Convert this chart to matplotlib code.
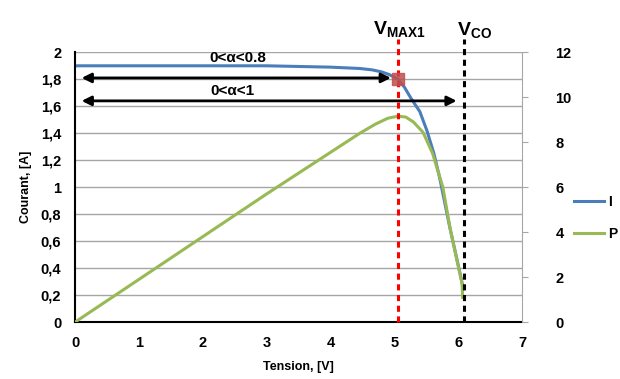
import numpy as np
import matplotlib
matplotlib.use("Agg")
import matplotlib.pyplot as plt

plt.rcParams['font.family'] = ['Liberation Sans', 'DejaVu Sans']
plt.rcParams['mathtext.fontset'] = 'custom'
plt.rcParams['mathtext.bf'] = 'Liberation Sans:bold'
plt.rcParams['mathtext.rm'] = 'Liberation Sans'

# courbe I(V)
v_i = [0, 0.5, 1, 1.5, 2, 2.5, 3, 3.5, 4, 4.46, 4.65, 4.8, 4.92, 5.06, 5.16, 5.26, 5.4, 5.51, 5.62, 5.71, 5.87, 6.03, 6.07]
i_a = [1.90, 1.90, 1.90, 1.90, 1.90, 1.90, 1.90, 1.895, 1.89, 1.88, 1.87, 1.855, 1.835, 1.80, 1.74, 1.66, 1.56, 1.42, 1.25, 1.07, 0.70, 0.36, 0.27]
# courbe P(V)
v_p = [0, 1, 2, 3, 4, 4.46, 4.7, 4.9, 5.06, 5.18, 5.3, 5.45, 5.6, 5.76, 5.87, 5.98, 6.06, 6.07]
p_w = [0, 1.9, 3.8, 5.7, 7.55, 8.4, 8.8, 9.07, 9.16, 9.12, 8.9, 8.44, 7.5, 6.0, 4.22, 2.76, 1.73, 1.1]

v_max = 5.06
i_max = 1.80
v_co = 6.09

left_ticks = [0, 0.2, 0.4, 0.6, 0.8, 1, 1.2, 1.4, 1.6, 1.8, 2]
left_labels = ['0', '0,2', '0,4', '0,6', '0,8', '1', '1,2', '1,4', '1,6', '1,8', '2']
right_ticks = [0, 2, 4, 6, 8, 10, 12]
x_ticks = [0, 1, 2, 3, 4, 5, 6, 7]

blue = '#4A7EBB'
green = '#98B954'

fig = plt.figure(figsize=(6.2, 3.79), dpi=100)
ax = fig.add_axes([0.121, 0.150, 0.721, 0.712])
ax2 = ax.twinx()

ax.set_xlim(0, 7)
ax.set_ylim(0, 2)
ax2.set_ylim(0, 12)

ax.set_yticks(left_ticks)
ax.set_yticklabels(left_labels)
ax.set_xticks(x_ticks)
ax2.set_yticks(right_ticks)
ax.grid(axis='y', color='#A6A6A6', lw=1)
ax.set_axisbelow(True)

for a in (ax, ax2):
    a.spines['top'].set_visible(False)
ax.spines['left'].set_color('black')
ax.spines['left'].set_linewidth(1.5)
ax.spines['bottom'].set_color('black')
ax.spines['bottom'].set_linewidth(1.5)
ax.spines['right'].set_visible(False)
ax2.spines['left'].set_visible(False)
ax2.spines['bottom'].set_visible(False)
ax2.spines['right'].set_color('#A6A6A6')

ax.tick_params(axis='both', length=0, labelsize=10.5, pad=10)
ax2.tick_params(axis='y', length=4, color='#A6A6A6', labelsize=10.5, pad=20)
for lab in ax.get_xticklabels() + ax.get_yticklabels() + ax2.get_yticklabels():
    lab.set_fontweight('bold')

ax.set_xlabel('Tension, [V]', fontsize=9, fontweight='bold', labelpad=8)
ax.set_ylabel('Courant, [A]', fontsize=9, fontweight='bold', labelpad=6)

l1, = ax.plot(v_i, i_a, color=blue, lw=2.2, label='I')
l2, = ax2.plot(v_p, p_w, color=green, lw=2.2, label='P')

# lignes verticales
ax2.plot([v_max, v_max], [0, 12.6], color='red', lw=2.2, ls=(0, (2, 1.5)), clip_on=False, zorder=5)
ax2.plot([v_co, v_co], [0, 12.6], color='black', lw=2.2, ls=(0, (2, 1.5)), clip_on=False, zorder=5)

# point de puissance max
ax2.plot([v_max], [i_max * 6], marker='s', ms=8, color='#C0504D', alpha=0.85, zorder=6)

# flèches
ax2.annotate('', xy=(v_max - 0.07, 1.81), xytext=(0.06, 1.81),
             xycoords=ax.transData, textcoords=ax.transData,
             arrowprops=dict(arrowstyle='<|-|>', color='black', lw=2, mutation_scale=14))
ax2.annotate('', xy=(v_co - 0.07, 1.64), xytext=(0.06, 1.64),
             xycoords=ax.transData, textcoords=ax.transData,
             arrowprops=dict(arrowstyle='<|-|>', color='black', lw=2, mutation_scale=14))
ax2.text(2.55, 1.955, '0<α<0.8', transform=ax.transData, ha='center', va='center',
         fontsize=11, fontweight='bold')
ax2.text(2.47, 1.715, '0<α<1', transform=ax.transData, ha='center', va='center',
         fontsize=11, fontweight='bold')

ax2.text(v_max + 0.02, 2.17, r'$\mathbf{V_{MAX1}}$', transform=ax.transData, ha='center',
         va='center', fontsize=14, clip_on=False)
ax2.text(v_co + 0.17, 2.165, r'$\mathbf{V_{CO}}$', transform=ax.transData, ha='center',
         va='center', fontsize=14, clip_on=False)

fig.legend(handles=[l1, l2], loc='center left', bbox_to_anchor=(0.925, 0.425),
           frameon=False, handlelength=2.2, handletextpad=0.3, borderpad=0,
           borderaxespad=0, labelspacing=1.3, prop={'weight': 'bold', 'size': 10})

fig.savefig('out.png', dpi=100)
